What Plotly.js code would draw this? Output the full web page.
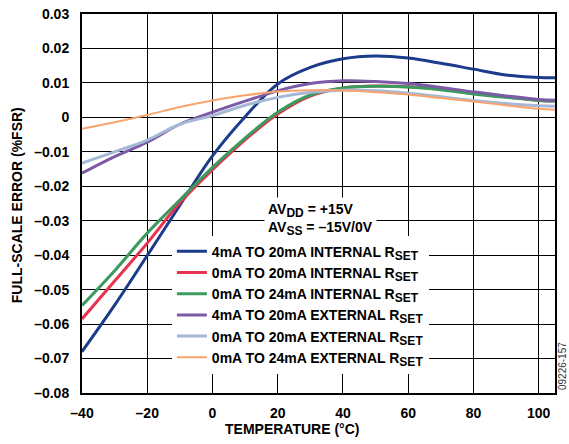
<!DOCTYPE html>
<html>
<head>
<meta charset="utf-8">
<script src="https://cdn.plot.ly/plotly-3.0.1.min.js"></script>
<style>html,body{margin:0;padding:0;background:#fff;}#chart{width:569px;height:444px;}</style>
</head>
<body>
<div id="chart"></div>
<script>
// Temperature (°C)
var temperature = [-40, -30, -20, -10, 0, 10, 20, 30, 40, 50, 60, 70, 80, 90, 100, 105];

// Full-scale error (%FSR)
var int4to20 = [-0.0680, -0.0545, -0.0401, -0.0255, -0.0112, 0.0002, 0.0097, 0.0145, 0.0170, 0.0178, 0.0172, 0.0157, 0.0140, 0.0123, 0.0116, 0.0115];
var int0to20 = [-0.0585, -0.0475, -0.0365, -0.0248, -0.0152, -0.0065, 0.0010, 0.0062, 0.0085, 0.0091, 0.0089, 0.0082, 0.0070, 0.0060, 0.0050, 0.0048];
var int0to24 = [-0.0546, -0.0445, -0.0336, -0.0240, -0.0145, -0.0060, 0.0015, 0.0065, 0.0085, 0.0090, 0.0088, 0.0080, 0.0068, 0.0058, 0.0049, 0.0047];
var ext4to20 = [-0.0162, -0.0114, -0.0072, -0.0020, 0.0015, 0.0047, 0.0077, 0.0098, 0.0106, 0.0104, 0.0098, 0.0087, 0.0074, 0.0062, 0.0052, 0.0050];
var ext0to20 = [-0.0133, -0.0100, -0.0066, -0.0020, 0.0005, 0.0035, 0.0058, 0.0073, 0.0079, 0.0077, 0.0070, 0.0060, 0.0049, 0.0040, 0.0034, 0.0032];
var ext0to24 = [-0.0033, -0.0014, 0.0007, 0.0030, 0.0049, 0.0064, 0.0075, 0.0079, 0.0078, 0.0073, 0.0066, 0.0056, 0.0046, 0.0035, 0.0025, 0.0022];

var SUB = function (s) { return "<sub><span style=\"font-size:12px\">" + s + "</span></sub>"; };

var seriesNames = [
  "4mA TO 20mA INTERNAL R" + SUB("SET"),
  "0mA TO 20mA INTERNAL R" + SUB("SET"),
  "0mA TO 24mA INTERNAL R" + SUB("SET"),
  "4mA TO 20mA EXTERNAL R" + SUB("SET"),
  "0mA TO 20mA EXTERNAL R" + SUB("SET"),
  "0mA TO 24mA EXTERNAL R" + SUB("SET")
];
var seriesValues = [int4to20, int0to20, int0to24, ext4to20, ext0to20, ext0to24];
var seriesColors = ["#1b3b8b", "#e8324f", "#3b9a5d", "#7b5aa6", "#a6b8d6", "#f8a46c"];
var seriesWidths = [3, 3, 3, 3, 3, 2];

var xTickVals = [-40, -20, 0, 20, 40, 60, 80, 100];
var xTickText = ["–40", "–20", "0", "20", "40", "60", "80", "100"];
var yTickVals = [0.03, 0.02, 0.01, 0, -0.01, -0.02, -0.03, -0.04, -0.05, -0.06, -0.07, -0.08];
var yTickText = ["0.03", "0.02", "0.01", "0", "–0.01", "–0.02", "–0.03", "–0.04", "–0.05", "–0.06", "–0.07", "–0.08"];

var FONT = "Liberation Sans, Arial, Helvetica, sans-serif";

var traces = seriesValues.map(function (vals, i) {
  return {
    x: temperature,
    y: vals,
    type: "scatter",
    mode: "lines",
    name: seriesNames[i],
    line: {color: seriesColors[i], width: seriesWidths[i], shape: "spline", smoothing: 1.0}
  };
});

var layout = {
  width: 569,
  height: 444,
  margin: {l: 82, r: 14, t: 14, b: 51},
  paper_bgcolor: "#ffffff",
  plot_bgcolor: "#ffffff",
  font: {family: FONT, size: 14, color: "#000", weight: "bold"},
  showlegend: true,
  legend: {
    x: 0.19, y: 0.415, xanchor: "left", yanchor: "top",
    bgcolor: "#ffffff", borderwidth: 0,
    font: {family: FONT, size: 14, color: "#000", weight: "bold"},
    tracegroupgap: 0
  },
  xaxis: {
    range: [-40, 105],
    tickmode: "array", tickvals: xTickVals, ticktext: xTickText,
    showgrid: true, gridcolor: "#000", gridwidth: 1,
    zeroline: false,
    showline: true, mirror: true, linecolor: "#000", linewidth: 2,
    ticks: "", ticklabelstandoff: 6,
    tickfont: {family: FONT, size: 14, color: "#000", weight: "bold"}
  },
  yaxis: {
    range: [-0.08, 0.03],
    tickmode: "array", tickvals: yTickVals, ticktext: yTickText,
    showgrid: true, gridcolor: "#000", gridwidth: 1,
    zeroline: false,
    showline: true, mirror: true, linecolor: "#000", linewidth: 2,
    ticks: "", ticklabelstandoff: 8,
    tickfont: {family: FONT, size: 14, color: "#000", weight: "bold"}
  },
  annotations: [
    {
      xref: "paper", yref: "paper", x: 0.444, y: -0.095,
      xanchor: "center", yanchor: "middle", showarrow: false,
      text: "TEMPERATURE (°C)",
      font: {family: FONT, size: 14, color: "#000", weight: "bold"}
    },
    {
      xref: "paper", yref: "paper", x: -0.137, y: 0.496,
      xanchor: "center", yanchor: "middle", showarrow: false, textangle: -90,
      text: "FULL-SCALE ERROR (%FSR)",
      font: {family: FONT, size: 14, color: "#000", weight: "bold"}
    },
    {
      xref: "paper", yref: "paper", x: 0.385, y: 0.518,
      xanchor: "left", yanchor: "top", showarrow: false, align: "left",
      text: "AV" + SUB("DD") + " = +15V<br>AV" + SUB("SS") + " = –15V/0V",
      bgcolor: "#ffffff", borderpad: 3,
      font: {family: FONT, size: 14, color: "#000", weight: "bold"}
    },
    {
      xref: "paper", yref: "paper", x: 1.016, y: 0.07,
      xanchor: "center", yanchor: "middle", showarrow: false, textangle: -90,
      text: "09226-157",
      font: {family: FONT, size: 10, color: "#333", weight: "normal"}
    }
  ]
};

Plotly.newPlot("chart", traces, layout, {staticPlot: true, displayModeBar: false});
</script>
</body>
</html>
